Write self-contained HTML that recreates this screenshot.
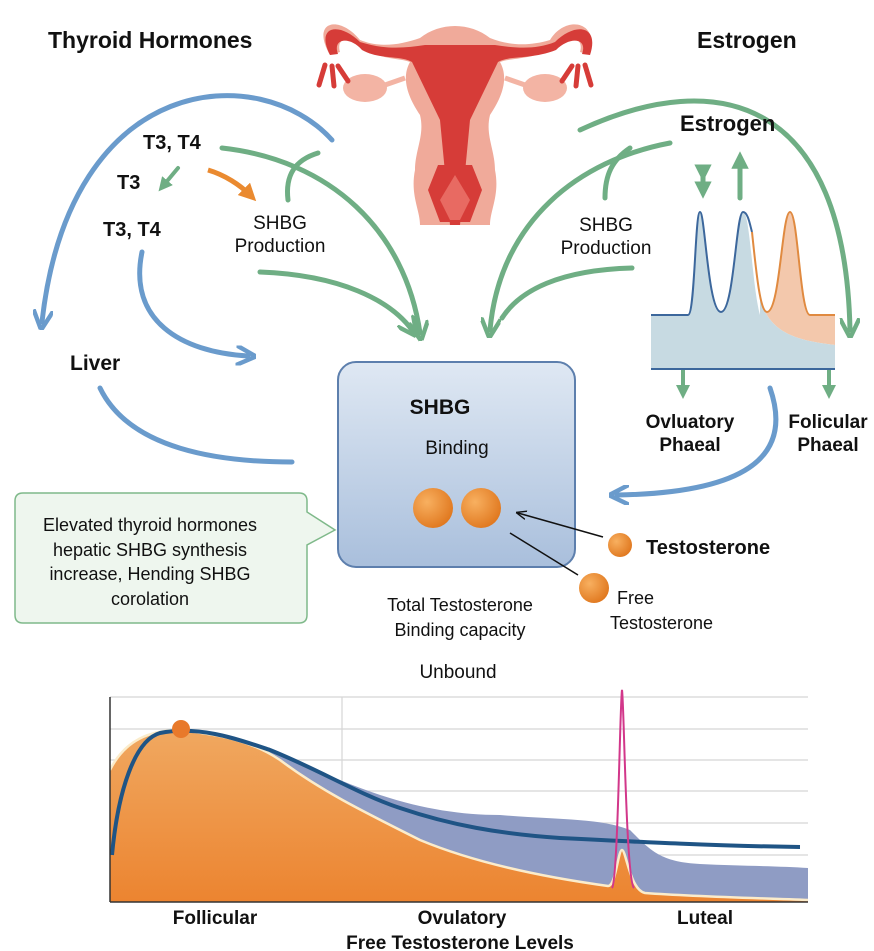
<!DOCTYPE html>
<html><head><meta charset="utf-8"><style>
html,body{margin:0;padding:0;background:#fff}
svg{display:block}
text{font-family:"Liberation Sans",sans-serif;fill:#111}
.b{font-weight:bold}
</style></head><body>
<svg width="874" height="951" viewBox="0 0 874 951" xmlns="http://www.w3.org/2000/svg">
<defs>
<marker id="ab" viewBox="0 0 10 10" refX="6" refY="5" markerWidth="4" markerHeight="4" orient="auto"><path d="M0,0 L10,5 L0,10" fill="none" stroke="#6a9bcc" stroke-width="2.2"/></marker>
<marker id="ag" viewBox="0 0 10 10" refX="6" refY="5" markerWidth="4" markerHeight="4" orient="auto"><path d="M0,0 L10,5 L0,10" fill="none" stroke="#6fae84" stroke-width="2.2"/></marker>
<marker id="agf" viewBox="0 0 10 10" refX="5" refY="5" markerWidth="3.5" markerHeight="3.5" orient="auto"><path d="M0,0 L10,5 L0,10 Z" fill="#6fae84"/></marker>
<marker id="ao" viewBox="0 0 10 10" refX="5" refY="5" markerWidth="3.5" markerHeight="3.5" orient="auto"><path d="M0,0 L10,5 L0,10 Z" fill="#ea8a30"/></marker>
<marker id="ak" viewBox="0 0 10 10" refX="8" refY="5" markerWidth="7" markerHeight="7" orient="auto"><path d="M0,1 L10,5 L0,9" fill="none" stroke="#111" stroke-width="1.3"/></marker>
<linearGradient id="box" x1="0" y1="0" x2="0" y2="1"><stop offset="0" stop-color="#dfe8f3"/><stop offset="1" stop-color="#a9bfdc"/></linearGradient>
<radialGradient id="ball" cx="0.35" cy="0.35" r="0.7"><stop offset="0" stop-color="#f8b060"/><stop offset="1" stop-color="#e0781f"/></radialGradient>
<linearGradient id="or" x1="0" y1="0" x2="0" y2="1"><stop offset="0" stop-color="#f0a860"/><stop offset="1" stop-color="#ec8430"/></linearGradient>
</defs>

<!-- Uterus -->
<g>
<path d="M330,55 C310,20 340,15 360,40 C380,48 400,45 420,38 C440,22 470,22 490,38 C510,46 530,46 550,40 C565,15 600,20 590,55 L580,52 C585,35 565,35 555,48 C530,60 510,58 500,62 C510,80 500,100 490,115 C485,135 495,150 495,170 C500,195 490,210 490,225 L420,225 C420,210 410,195 415,170 C415,150 425,135 420,115 C410,100 400,80 410,62 C400,58 380,60 365,48 C355,35 335,35 340,52 Z" fill="#f0aa9a"/>
<path d="M330,55 C315,25 340,22 360,42 C385,50 405,48 425,45 L495,45 C515,48 535,50 555,42 C575,22 600,25 590,55 L582,54 C588,38 570,36 556,50 C530,60 510,55 498,62 L470,120 L460,225 L450,225 L440,120 L412,62 C400,55 380,60 362,50 C350,36 332,38 338,54 Z" fill="#d63c38"/>
<path d="M438,165 L472,165 L482,190 L470,222 L440,222 L428,190 Z" fill="#d63c38"/>
<path d="M455,175 L470,200 L460,220 L450,220 L440,200 Z" fill="#e86a62"/>
<ellipse cx="365" cy="88" rx="22" ry="14" fill="#f3b4a4"/>
<ellipse cx="545" cy="88" rx="22" ry="14" fill="#f3b4a4"/>
<path d="M385,85 L405,78" stroke="#f3b4a4" stroke-width="5"/>
<path d="M525,85 L505,78" stroke="#f3b4a4" stroke-width="5"/>
<path d="M325,65 l-6,20 M332,66 l2,20 M338,66 l10,15" stroke="#d63c38" stroke-width="5" stroke-linecap="round"/>
<path d="M585,65 l6,20 M578,66 l-2,20 M572,66 l-10,15" stroke="#d63c38" stroke-width="5" stroke-linecap="round"/>
</g>

<!-- blue arrows -->
<g fill="none" stroke="#6a9bcc" stroke-width="5" stroke-linecap="round">
<path d="M332,140 C260,60 70,70 42,322" marker-end="url(#ab)"/>
<path d="M142,252 C128,320 180,352 248,356" marker-end="url(#ab)"/>
<path d="M100,388 C130,450 220,462 292,462"/>
<path d="M770,388 C795,460 740,493 617,495" marker-end="url(#ab)"/>
</g>
<!-- green arrows -->
<g fill="none" stroke="#6fae84" stroke-width="5" stroke-linecap="round">
<path d="M222,148 C330,160 405,230 420,333" marker-end="url(#ag)"/>
<path d="M288,200 C285,175 295,160 318,153"/>
<path d="M260,272 C340,275 390,300 412,330" marker-end="url(#ag)"/>
<path d="M580,130 C720,65 845,100 850,330" marker-end="url(#ag)"/>
<path d="M670,143 C580,160 500,220 490,330" marker-end="url(#ag)"/>
<path d="M605,198 C605,175 612,160 630,148"/>
<path d="M632,268 C560,270 520,290 502,318"/>
<path d="M178,168 L163,186" stroke-width="4" marker-end="url(#agf)"/>
<path d="M703,173 L703,190" stroke-width="5" marker-end="url(#agf)" marker-start="url(#agf)"/>
<path d="M740,198 L740,160" stroke-width="5" marker-end="url(#agf)"/>
<path d="M683,370 L683,392" stroke-width="4" marker-end="url(#agf)"/>
<path d="M829,370 L829,392" stroke-width="4" marker-end="url(#agf)"/>
</g>
<path d="M208,170 C225,175 240,185 250,195" fill="none" stroke="#ea8a30" stroke-width="5" marker-end="url(#ao)"/>

<!-- estrogen graph -->
<path d="M651,315 L688,315 C695,315 695,212 700,212 C705,212 708,312 721,312 C734,312 736,212 743,212 C750,212 752,285 760,315 L760,369 L651,369 Z" fill="#c7dae2"/>
<path d="M752,230 C756,270 760,312 767,312 C780,312 782,212 790,212 C798,212 800,315 810,315 L835,315 L835,345 C790,340 770,330 760,300 Z" fill="#f3c8ac"/>
<path d="M760,300 C770,330 790,340 835,345 L835,369 L760,369 Z" fill="#c7dae2"/>
<path d="M651,315 L688,315 C695,315 695,212 700,212 C705,212 708,312 721,312 C734,312 736,212 743,212 C748,212 750,225 752,232" fill="none" stroke="#3c679c" stroke-width="2"/>
<path d="M752,232 C756,270 760,312 767,312 C780,312 782,212 790,212 C798,212 800,315 810,315 L835,315" fill="none" stroke="#e08a40" stroke-width="2"/>
<path d="M651,369 L835,369" stroke="#3c679c" stroke-width="2"/>

<!-- SHBG box -->
<rect x="338" y="362" width="237" height="205" rx="18" fill="url(#box)" stroke="#5d7fad" stroke-width="2"/>
<text x="440" y="414" class="b" font-size="21" text-anchor="middle">SHBG</text>
<text x="457" y="454" font-size="19" text-anchor="middle">Binding</text>
<circle cx="433" cy="508" r="20" fill="url(#ball)"/>
<circle cx="481" cy="508" r="20" fill="url(#ball)"/>
<circle cx="620" cy="545" r="12" fill="url(#ball)"/>
<circle cx="594" cy="588" r="15" fill="url(#ball)"/>
<line x1="603" y1="537" x2="518" y2="513" stroke="#111" stroke-width="1.5" marker-end="url(#ak)"/>
<line x1="510" y1="533" x2="578" y2="575" stroke="#111" stroke-width="1.5"/>

<!-- callout -->
<path d="M23,493 L299,493 Q307,493 307,501 L307,512 L335,530 L307,545 L307,615 Q307,623 299,623 L23,623 Q15,623 15,615 L15,501 Q15,493 23,493 Z" fill="#eef6ee" stroke="#7fb98a" stroke-width="1.5"/>
<g font-size="18" text-anchor="middle">
<text x="150" y="531">Elevated thyroid hormones</text>
<text x="150" y="556">hepatic SHBG synthesis</text>
<text x="150" y="580">increase, Hending SHBG</text>
<text x="150" y="605">corolation</text>
</g>

<!-- labels -->
<text x="48" y="48" class="b" font-size="23">Thyroid Hormones</text>
<text x="697" y="48" class="b" font-size="23">Estrogen</text>
<text x="143" y="149" class="b" font-size="20">T3, T4</text>
<text x="117" y="189" class="b" font-size="20">T3</text>
<text x="103" y="236" class="b" font-size="20">T3, T4</text>
<text x="280" y="229" font-size="19" text-anchor="middle">SHBG</text>
<text x="280" y="252" font-size="19" text-anchor="middle">Production</text>
<text x="606" y="231" font-size="19" text-anchor="middle">SHBG</text>
<text x="606" y="254" font-size="19" text-anchor="middle">Production</text>
<text x="680" y="131" class="b" font-size="22">Estrogen</text>
<text x="70" y="370" class="b" font-size="21">Liver</text>
<text x="690" y="428" class="b" font-size="19" text-anchor="middle">Ovluatory</text>
<text x="690" y="451" class="b" font-size="19" text-anchor="middle">Phaeal</text>
<text x="828" y="428" class="b" font-size="19" text-anchor="middle">Folicular</text>
<text x="828" y="451" class="b" font-size="19" text-anchor="middle">Phaeal</text>
<text x="646" y="554" class="b" font-size="20">Testosterone</text>
<text x="617" y="604" font-size="18">Free</text>
<text x="610" y="629" font-size="18">Testosterone</text>
<text x="460" y="611" font-size="18" text-anchor="middle">Total Testosterone</text>
<text x="460" y="636" font-size="18" text-anchor="middle">Binding capacity</text>
<text x="458" y="678" font-size="19" text-anchor="middle">Unbound</text>

<!-- chart -->
<g stroke="#d5d5d5" stroke-width="1.2">
<line x1="110" y1="697" x2="808" y2="697"/><line x1="110" y1="729" x2="808" y2="729"/>
<line x1="110" y1="760" x2="808" y2="760"/><line x1="110" y1="791" x2="808" y2="791"/>
<line x1="110" y1="823" x2="808" y2="823"/><line x1="110" y1="855" x2="808" y2="855"/>
<line x1="342" y1="697" x2="342" y2="902"/>
</g>
<path d="M240,742 C280,750 300,765 340,780 C400,805 450,815 500,815 C560,820 600,818 630,830 C650,850 660,862 700,864 C740,866 780,866 808,868 L808,900 L240,900 Z" fill="#8f9cc4"/>
<path d="M110,770 C125,740 150,730 180,730 C220,735 250,740 280,760 C320,790 360,810 420,840 C480,865 550,878 608,886 C616,886 618,850 622,850 C626,850 630,890 645,893 C700,897 760,898 808,900 L808,902 L110,902 Z" fill="url(#or)"/>
<path d="M110,770 C125,740 150,730 180,730 C220,735 250,740 280,760 C320,790 360,810 420,840 C480,865 550,878 608,886 C616,886 618,850 622,850 C626,850 630,890 645,893 C700,897 760,898 808,900" fill="none" stroke="#fbeccb" stroke-width="2.5"/>
<path d="M112,855 C118,790 135,740 160,733 C200,725 240,740 270,750 C320,770 360,795 400,808 C450,825 500,834 560,838 C640,842 720,846 800,847" fill="none" stroke="#1f5485" stroke-width="4"/>
<path d="M612,888 C618,880 620,700 622,690 C624,700 626,880 634,888" fill="none" stroke="#d2378a" stroke-width="2"/>
<circle cx="181" cy="729" r="9" fill="#e8792a"/>
<line x1="110" y1="697" x2="110" y2="902" stroke="#333" stroke-width="1.5"/>
<line x1="110" y1="902" x2="808" y2="902" stroke="#333" stroke-width="1.5"/>
<text x="215" y="924" class="b" font-size="19" text-anchor="middle">Follicular</text>
<text x="462" y="924" class="b" font-size="19" text-anchor="middle">Ovulatory</text>
<text x="705" y="924" class="b" font-size="19" text-anchor="middle">Luteal</text>
<text x="460" y="949" class="b" font-size="19" text-anchor="middle">Free Testosterone Levels</text>
</svg>
</body></html>
